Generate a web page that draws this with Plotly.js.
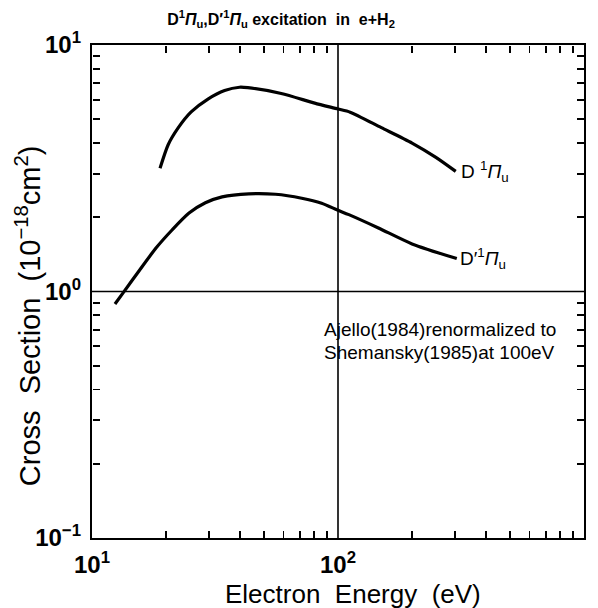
<!DOCTYPE html>
<html>
<head>
<meta charset="utf-8">
<script src="https://cdn.plot.ly/plotly-3.0.1.min.js"></script>
<style>html,body{margin:0;padding:0;background:#fff;}#chart{width:598px;height:608px;}</style>
</head>
<body>
<div id="chart"></div>
<script>
// D 1Pi_u cross section (10^-18 cm^2) vs electron energy (eV)
const energyD = [18.9, 20.4, 22.4, 25.3, 29.6, 34.6, 39.8, 43.0, 58.8, 80.4, 100, 112, 150, 200, 250, 301];
const sigmaD  = [3.16, 3.94, 4.61, 5.35, 6.03, 6.53, 6.74, 6.71, 6.36, 5.81, 5.50, 5.34, 4.62, 4.00, 3.50, 3.07];
// D' 1Pi_u cross section
const energyDp = [12.4, 13.4, 15.6, 18.2, 21.2, 24.8, 28.9, 33.8, 43.4, 55.7, 71.2, 85.8, 99.5, 110.7, 146, 200, 304];
const sigmaDp  = [0.89, 0.99, 1.22, 1.50, 1.78, 2.08, 2.29, 2.42, 2.49, 2.48, 2.39, 2.28, 2.14, 2.05, 1.81, 1.56, 1.36];

const xLabelVals = [10, 100, 1000];
const xLabelText = ['10<sup>1</sup>', '10<sup>2</sup>', '10<sup>3</sup>'];
const yLabelVals = [0.1, 1, 10];
const yLabelText = ['10<sup>−1</sup>', '10<sup>0</sup>', '10<sup>1</sup>'];
const xTickVals = [20,30,40,50,60,70,80,90,200,300,400,500,600,700,800,900];
const yTickVals = [0.2,0.3,0.4,0.5,0.6,0.7,0.8,0.9,2,3,4,5,6,7,8,9];
const xGridAt = [100];
const yGridAt = [1];

const labelD = 'D <sup>1</sup><i>Π</i><sub>u</sub>';
const labelDp = 'D′<sup>1</sup><i>Π</i><sub>u</sub>';
const titleText = 'D<sup>1</sup><i>Π</i><sub>u</sub>,D′<sup>1</sup><i>Π</i><sub>u</sub> excitation  in  e+H<sub>2</sub>';
const noteLines = ['Ajello(1984)renormalized to', 'Shemansky(1985)at 100eV'];
const xTitle = 'Electron  Energy  (eV)';
const yTitle = 'Cross  Section  (10<sup>−18</sup>cm<sup>2</sup>)';

const FONT = 'Liberation Sans, Arial, sans-serif';
const curveLine = {color: '#000', width: 3.2, shape: 'spline', smoothing: 0.7};
const ghost = {mode: 'lines', line: {width: 0}, opacity: 0, hoverinfo: 'skip', showlegend: false};

const traces = [
  {x: energyD, y: sigmaD, mode: 'lines', line: curveLine, hoverinfo: 'skip'},
  {x: energyDp, y: sigmaDp, mode: 'lines', line: curveLine, hoverinfo: 'skip'},
  // invisible copies so the tick-only overlay axes exist
  Object.assign({x: energyD, y: sigmaD, xaxis: 'x2', yaxis: 'y'}, ghost),
  Object.assign({x: energyD, y: sigmaD, xaxis: 'x3', yaxis: 'y'}, ghost),
  Object.assign({x: energyD, y: sigmaD, xaxis: 'x', yaxis: 'y2'}, ghost),
  Object.assign({x: energyD, y: sigmaD, xaxis: 'x', yaxis: 'y3'}, ghost)
];

function mainAxis(vals, text, range) {
  return {
    type: 'log', range: range,
    tickmode: 'array', tickvals: vals, ticktext: text,
    ticks: '', ticklabelstandoff: 4,
    showline: true, linewidth: 2.2, linecolor: 'black', mirror: true,
    showgrid: false, zeroline: false,
    tickfont: {family: FONT, size: 24, color: '#000', weight: 'bold'}
  };
}
function tickAxis(vals, range, overlay, side, pos) {
  return {
    type: 'log', range: range, overlaying: overlay, anchor: 'free', position: pos, side: side,
    tickmode: 'array', tickvals: vals,
    ticks: 'outside', ticklen: 7, tickwidth: 1.8, tickcolor: 'black',
    showticklabels: false, showline: false, showgrid: false, zeroline: false
  };
}

const shapes = [];
xGridAt.forEach(v => shapes.push({type: 'line', xref: 'x', yref: 'paper', x0: v, x1: v, y0: 0, y1: 1, line: {color: '#000', width: 1.6}}));
yGridAt.forEach(v => shapes.push({type: 'line', xref: 'paper', yref: 'y', x0: 0, x1: 1, y0: v, y1: v, line: {color: '#000', width: 1.6}}));

const annotations = [
  {x: Math.log10(energyD[energyD.length-1]), y: Math.log10(sigmaD[sigmaD.length-1]), xref: 'x', yref: 'y',
   text: labelD, showarrow: false, xanchor: 'left', yanchor: 'middle', xshift: 3,
   font: {family: FONT, size: 19, color: '#000'}},
  {x: Math.log10(energyDp[energyDp.length-1]), y: Math.log10(sigmaDp[sigmaDp.length-1]), xref: 'x', yref: 'y',
   text: labelDp, showarrow: false, xanchor: 'left', yanchor: 'middle', xshift: 1,
   font: {family: FONT, size: 19, color: '#000'}},
  {x: 0.467, y: 0.422, xref: 'paper', yref: 'paper', text: noteLines[0], showarrow: false,
   xanchor: 'left', yanchor: 'middle', font: {family: FONT, size: 19, color: '#000'}},
  {x: 0.467, y: 0.377, xref: 'paper', yref: 'paper', text: noteLines[1], showarrow: false,
   xanchor: 'left', yanchor: 'middle', font: {family: FONT, size: 19, color: '#000'}},
  {x: 0.53, y: -0.113, xref: 'paper', yref: 'paper', text: xTitle, showarrow: false,
   xanchor: 'center', yanchor: 'middle', font: {family: FONT, size: 26, color: '#000'}},
  {x: -0.13, y: 0.45, xref: 'paper', yref: 'paper', text: yTitle, showarrow: false, textangle: -90,
   xanchor: 'center', yanchor: 'middle', font: {family: FONT, size: 29, color: '#000'}}
];

const layout = {
  width: 598, height: 608,
  margin: {l: 92, r: 14, t: 45, b: 70},
  paper_bgcolor: '#fff', plot_bgcolor: '#fff',
  showlegend: false,
  title: {text: titleText, font: {family: FONT, size: 16, color: '#000', weight: 'bold'}, x: 0.47, xanchor: 'center', y: 0.968, yanchor: 'middle'},
  xaxis: mainAxis(xLabelVals, xLabelText, [1, 3]),
  yaxis: mainAxis(yLabelVals, yLabelText, [-1, 1]),
  xaxis2: tickAxis(xTickVals, [1, 3], 'x', 'top', 0),
  xaxis3: tickAxis(xTickVals, [1, 3], 'x', 'bottom', 1),
  yaxis2: tickAxis(yTickVals, [-1, 1], 'y', 'right', 0),
  yaxis3: tickAxis(yTickVals, [-1, 1], 'y', 'left', 1),
  shapes: shapes,
  annotations: annotations
};

Plotly.newPlot('chart', traces, layout, {displayModeBar: false, staticPlot: true});
</script>
</body>
</html>
